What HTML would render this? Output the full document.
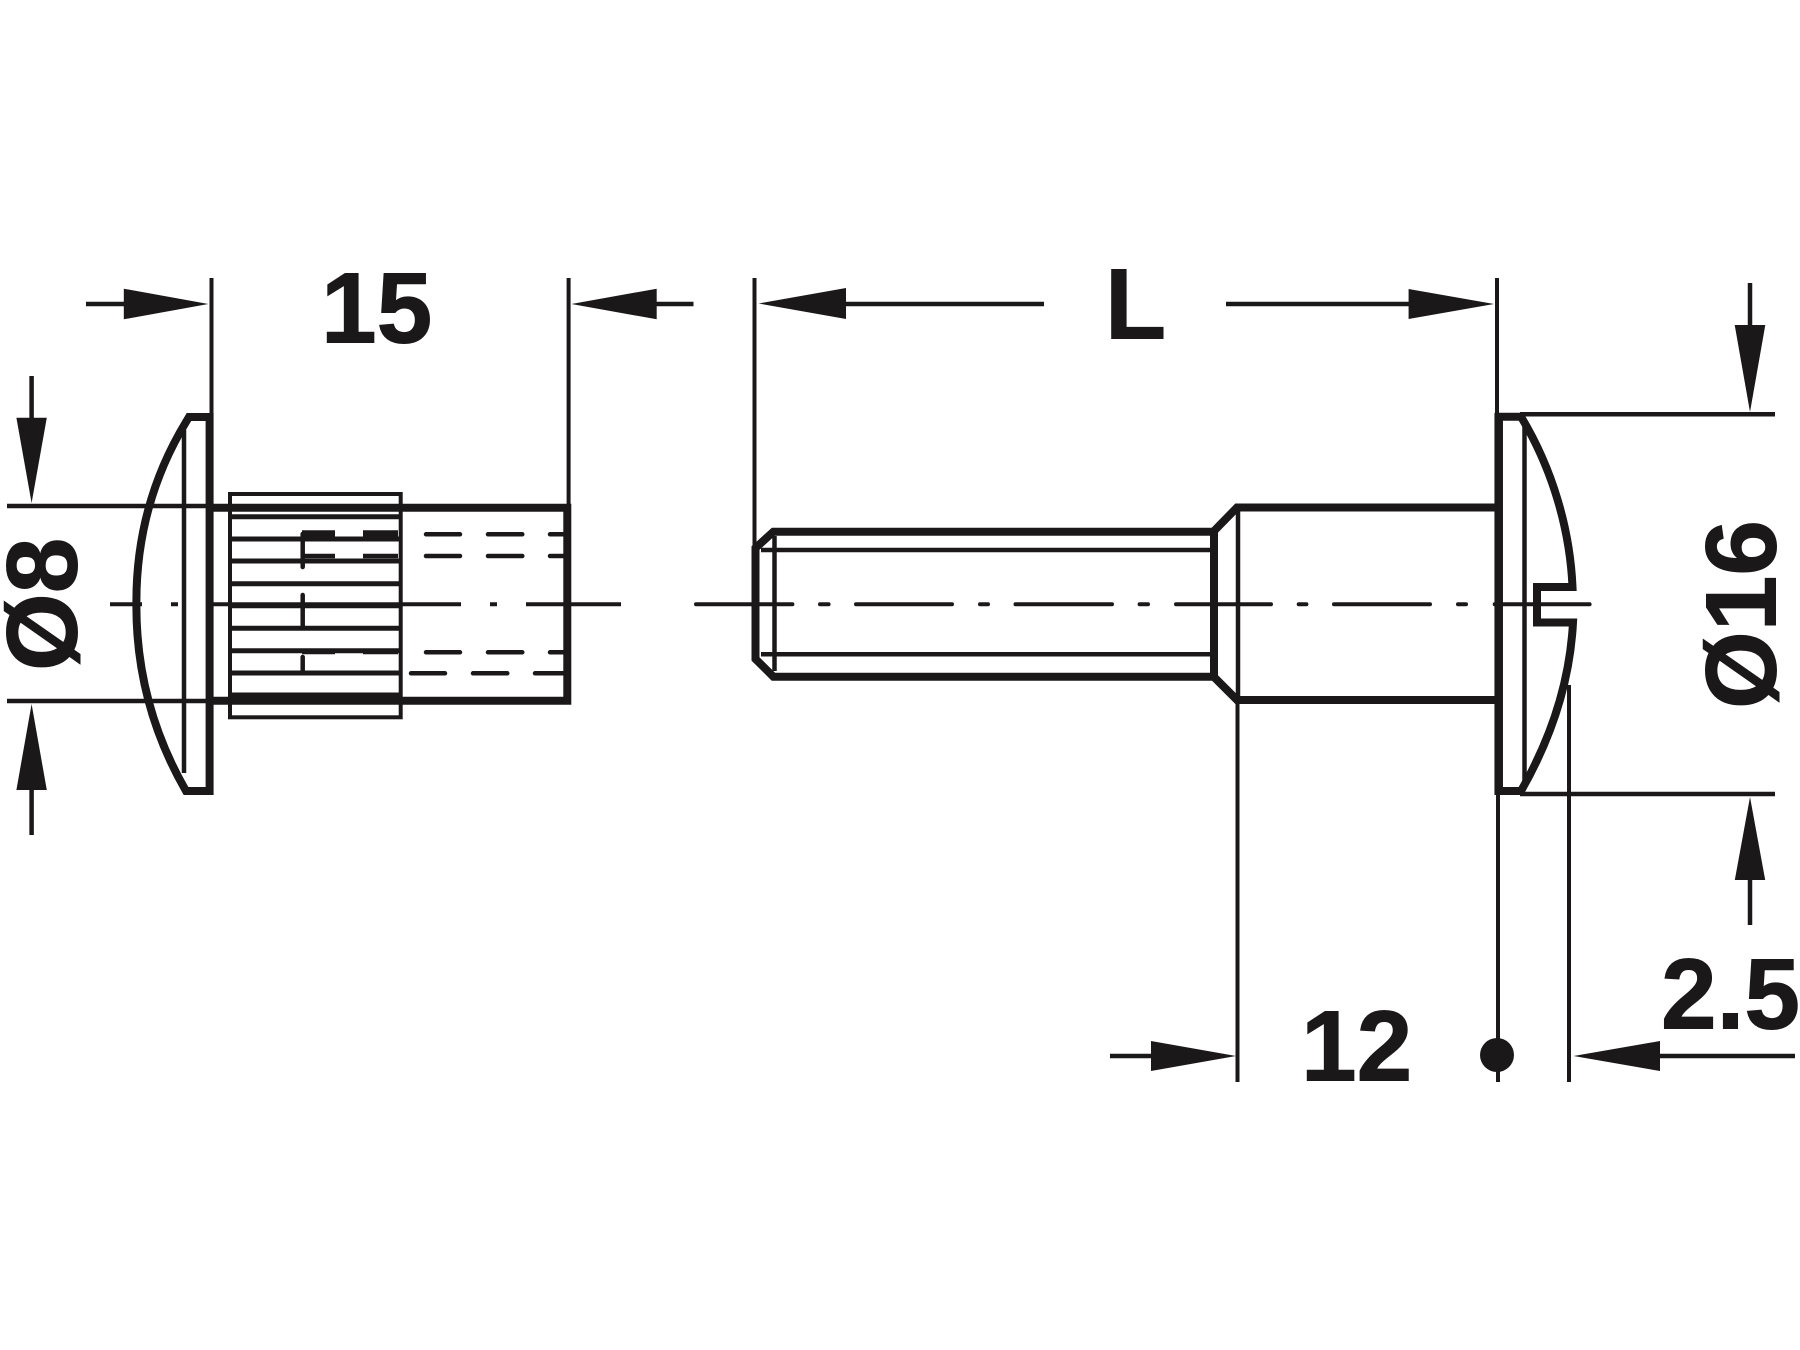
<!DOCTYPE html>
<html><head><meta charset="utf-8"><style>
html,body{margin:0;padding:0;background:#fff}
svg{display:block}
text{font-family:"Liberation Sans",sans-serif;font-weight:bold;font-size:100px;fill:#1b1819;stroke:#1b1819;stroke-width:1px}
</style></head><body>
<svg width="1800" height="1350" viewBox="0 0 1800 1350" xmlns="http://www.w3.org/2000/svg">
<rect width="1800" height="1350" fill="#fff"/>
<g fill="none" stroke="#1b1819" stroke-width="4.5">
<!-- extension lines -->
<path d="M211.5 278V414M568.6 278V505M754.5 278V546M1497 278V414M1237.5 700V1082M1498 794V1082M1569 685V1082" stroke-width="4"/>
<path d="M7 506H212M7 701H212M1520 414.3H1775M1520 794H1775"/>
<!-- dimension lines -->
<path d="M86 304H126M650 304H693.5M846 304H1044M1226 304H1410M1110 1056H1153M1658 1056H1795M31.6 376V420M31.6 788V835M1750 283V327M1750 878V925"/>
<!-- centre lines -->
<g stroke-width="4">
<path d="M110 604.3H142M171 604.3H178M213.5 604.3H461M490 604.3H497M526 604.3H621"/>
<path d="M696 604.3H792.4M820 604.3H828.6M856 604.3H952M980 604.3H988M1015.5 604.3H1112M1139.6 604.3H1148M1176 604.3H1271M1298.7 604.3H1306.4M1334 604.3H1430M1458 604.3H1466M1494.7 604.3H1589.6" stroke-linecap="round"/>
</g>
<!-- left part: head -->
<path d="M209.6 417H189L186 422C152 478 136 540 136.4 604C136 670 152 732 186 791H209.6" stroke-width="8"/>
<path d="M209.6 413V795" stroke-width="8"/>
<path d="M184 430V773"/>
<!-- body -->
<path d="M212 507.7H567.3V700.7H212" stroke-width="8"/>
<path d="M232 698.5H400" stroke-width="12"/>
<!-- knurl -->
<rect x="230" y="494" width="170.7" height="223.3" stroke-width="4"/>
<path d="M232 516.7H400M232 539H400M232 561H400M232 583.7H400M232 605.7H400M232 628.3H400M232 650.7H400M232 673H400" stroke-width="5"/>
<!-- hidden detail -->
<path d="M302.7 534V567M302.7 595V627M302.7 657V673" stroke-linecap="round"/>
<path d="M302 534.3H335M363 534.3H398" stroke-width="8"/>
<path d="M302 556H335M363 556H398M302 652H335M363 652H398"/>
<path d="M426 534.3H460M488 534.3H522.3M550 534.3H564M426 556H460M488 556H522.3M550 556H564M426 652.3H460M488 652.3H522.3M550 652.3H564M411 673.3H445M473 673.3H507.3M535 673.3H564" stroke-linecap="round"/>
<!-- screw thread -->
<path d="M755.5 548V659L773.4 676.7H1214V531.7H773.4Z" stroke-width="8"/>
<path d="M761 550H1211M761 654.3H1211M774.5 536V671"/>
<!-- shoulder -->
<path d="M1214 531L1237 507.5H1495M1214 677L1237 700H1495" stroke-width="8"/>
<path d="M1238 510V700"/>
<!-- screw head -->
<path d="M1498.7 416.7H1521C1553 470 1570 530 1572.5 587H1537V622.5H1573C1570 680 1553 735 1521 791H1498.7Z" stroke-width="8"/>
<path d="M1498.7 413V795" stroke-width="8.5"/>
<path d="M1524.5 420V781"/>
</g>
<g fill="#1b1819" stroke="none">
<!-- arrowheads -->
<path d="M208.4 304L123.8 288.7V319.3Z"/>
<path d="M571.4 304L656.7 288.7V319.3Z"/>
<path d="M758.6 303.5L846 288V319Z"/>
<path d="M1494 304L1408.6 289V319Z"/>
<path d="M31.6 503L16.4 417.7H46.8Z"/>
<path d="M31.6 704L16.4 790H46.8Z"/>
<path d="M1750 412L1734.7 325H1765.3Z"/>
<path d="M1750 797L1734.8 880H1765.2Z"/>
<path d="M1236 1056L1151 1041V1071Z"/>
<path d="M1573.6 1056L1660 1041V1071Z"/>
<circle cx="1497" cy="1055" r="17"/>
</g>
<text x="1105" y="338.5">L</text>
<text x="321" y="342.5">15</text>
<text x="1301" y="1080.5">12</text>
<text x="1661" y="1028.5">2.5</text>
<text transform="translate(76.5 671) rotate(-90)">Ø8</text>
<text transform="translate(1775.5 709) rotate(-90)">Ø16</text>
</svg>
</body></html>
